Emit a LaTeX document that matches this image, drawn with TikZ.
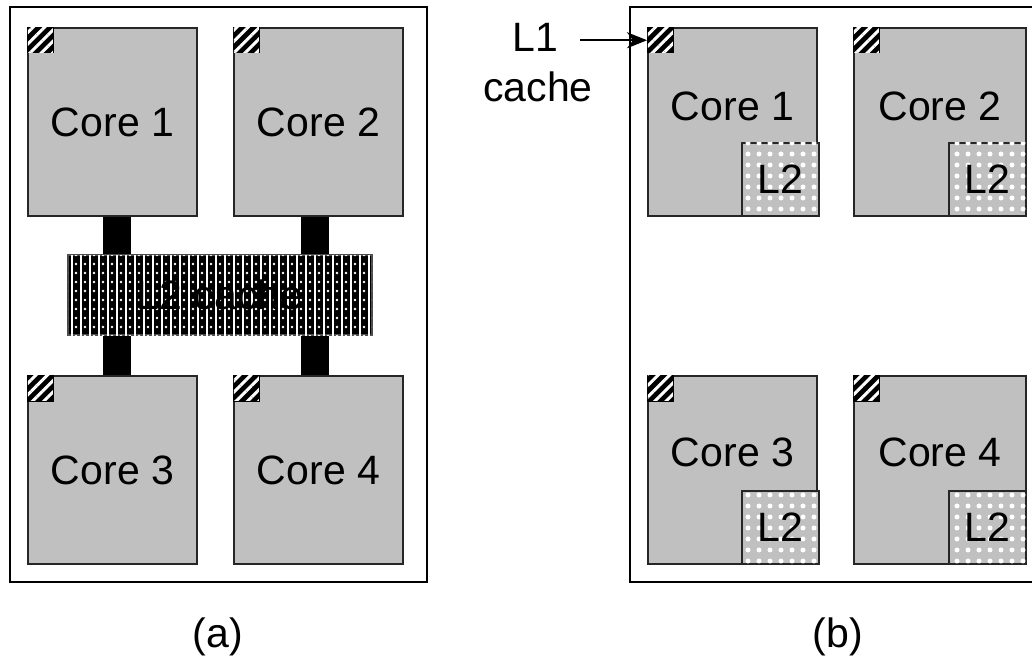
\documentclass[tikz,border=0pt]{standalone}
\usepackage{fontspec}
\setmainfont{Liberation Sans}
\usetikzlibrary{patterns.meta,arrows.meta,calc}
\definecolor{coregray}{RGB}{192,192,192}
\begin{document}
\begin{tikzpicture}[x=1pt,y=-1pt,
  font=\fontsize{41pt}{48pt}\selectfont,
  chip/.style={draw=black,line width=2pt},
  core/.style={draw=black!85,line width=2pt,fill=coregray,anchor=north west,
    minimum width=169pt,minimum height=188pt,inner sep=0pt},
  lone/.style={draw=black,line width=1.5pt,fill=black,anchor=north west,
    minimum width=25pt,minimum height=25pt,inner sep=0pt,
    postaction={pattern={Lines[angle=45,distance=8pt,line width=3pt]},pattern color=white}},
  ltwo/.style={draw=black!85,line width=2pt,fill=coregray,anchor=south east,
    minimum width=77pt,minimum height=73pt,inner sep=0pt,
    postaction={pattern={Dots[radius=2.5pt,distance=11pt]},pattern color=white}},
  bus/.style={line width=28pt,draw=black},
  arr/.style={line width=2pt,-{Stealth[length=20pt,width=16pt,inset=6pt]}},
  lbl/.style={inner sep=0pt}]
\useasboundingbox (0,0) rectangle (1032,660);

% ---------- (a) ----------
\draw[chip] (10,7) rectangle (427,582);
\node[core] (a1) at (27,27) {Core 1};
\node[core] (a2) at (233,27) {Core 2};
\node[core] (a3) at (27,375) {Core 3};
\node[core] (a4) at (233,375) {Core 4};
\foreach \n in {a1,a2,a3,a4}{\node[lone] (h\n) at (\n.north west) {};}
\draw[bus] ([xshift=4.5pt]a1.south) -- ([xshift=4.5pt]a3.north);
\draw[bus] ([xshift=-3.5pt]a2.south) -- ([xshift=-3.5pt]a4.north);
\node[draw=black!70,line width=1.5pt,fill=black,minimum width=304pt,minimum height=80pt,inner sep=0pt,
  postaction={pattern={Lines[angle=90,distance=9pt,line width=2.5pt]},pattern color=white},
  postaction={pattern={Dots[radius=1.3pt,distance=9pt,xshift=4pt]},pattern color=white}]
  (l2a) at (220,295) {\color{black}L2 cache};
\node[lbl] (capa) at (218,637) {(a)};

% ---------- (b) ----------
\draw[chip] (1040,7) -- (630,7) -- (630,582) -- (1040,582);
\node[core] (b1) at (647,27) {};
\node[core] (b3) at (647,375) {};
\node[core,minimum width=172pt] (b4) at (853,375) {};
\node[core,minimum width=172pt] (b2) at (853,27) {};
\foreach \n in {b1,b2,b3,b4}{\node[lone] (h\n) at (\n.north west) {};}
\node[ltwo] (m1) at ([xshift=1.5pt]b1.south east) {L2};
\node[ltwo] (m2) at (b2.south east) {L2};
\node[ltwo] (m3) at ([xshift=1.5pt]b3.south east) {L2};
\node[ltwo] (m4) at (b4.south east) {L2};
\node[lbl] at ($(b1.north)+(0,79)$) {Core 1};
\node[lbl] at ($(b2.north)+(0,79)$) {Core 2};
\node[lbl] at ($(b3.north)+(0,77)$) {Core 3};
\node[lbl] at ($(b4.north)+(0,77)$) {Core 4};

\node[lbl] (l1) at (535,37) {L1};
\node[lbl] (cache) at (538,87) {cache};
\draw[arr,shorten <=22pt] (hb1.west -| l1.east) -- (hb1.west);
\node[lbl] (capb) at (838,637) {(b)};
\end{tikzpicture}
\end{document}
